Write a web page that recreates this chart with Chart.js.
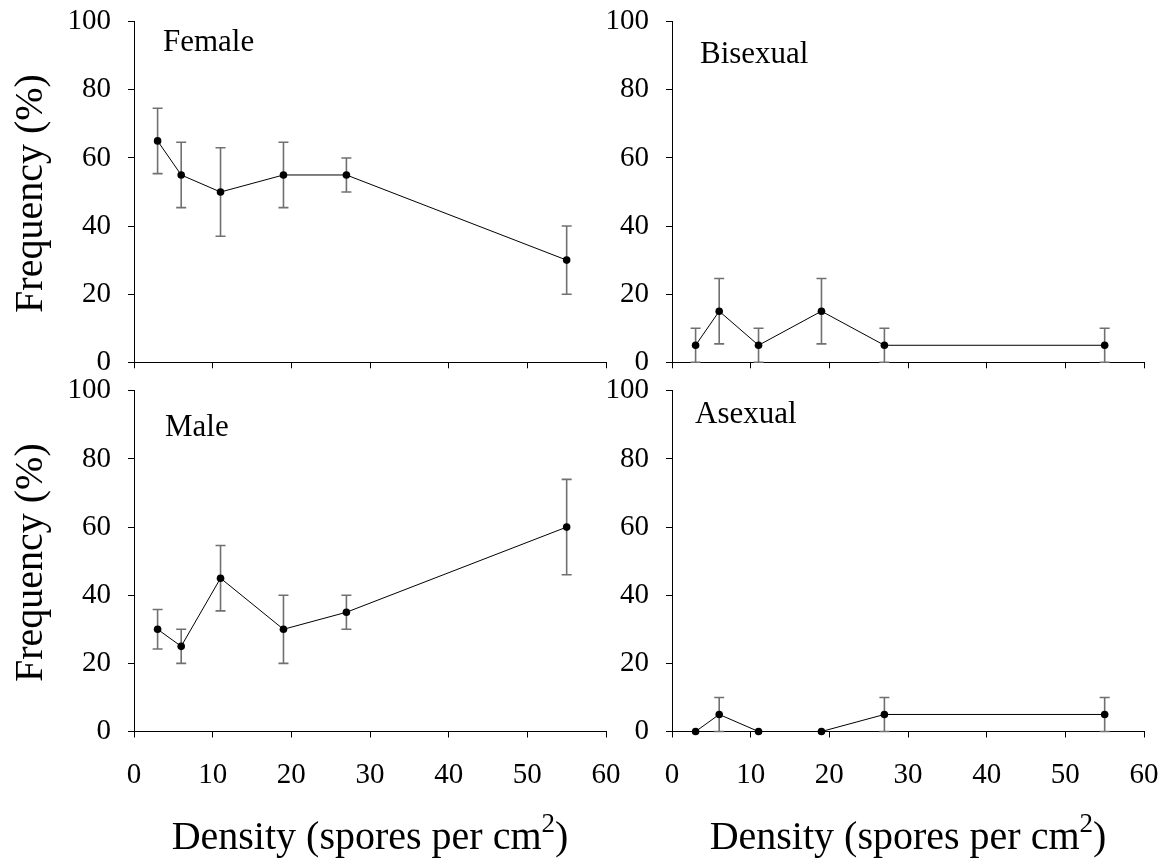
<!DOCTYPE html>
<html>
<head>
<meta charset="utf-8">
<title>Sex expression vs. spore density</title>
<script src="https://cdn.jsdelivr.net/npm/chart.js@4.4.1/dist/chart.umd.min.js"></script>
<style>
  html, body { margin: 0; padding: 0; background: #fff; }
  #wrap { position: relative; width: 1167px; height: 862px; overflow: hidden; background: #fff; }
  #wrap canvas { position: absolute; left: 0; top: 0; }
</style>
</head>
<body>
<div id="wrap">
  <canvas id="cFemale" width="1167" height="862"></canvas>
  <canvas id="cBisexual" width="1167" height="862"></canvas>
  <canvas id="cMale" width="1167" height="862"></canvas>
  <canvas id="cAsexual" width="1167" height="862"></canvas>
</div>
<script>
// Spore density (spores per cm^2) used in every panel
const density = [3, 6, 11, 19, 27, 55];

// Frequency (%) of each sex type, with error bar half-lengths
const female      = [65, 55, 50, 55, 55, 30];
const femaleErr   = [9.6, 9.6, 13, 9.6, 5, 10];
const bisexual    = [5, 15, 5, 15, 5, 5];
const bisexualErr = [5, 9.6, 5, 9.6, 5, 5];
const male        = [30, 25, 45, 30, 35, 60];
const maleErr     = [5.8, 5, 9.6, 10, 5, 14];
const asexual     = [0, 5, 0, 0, 5, 5];
const asexualErr  = [0, 5, 0, 0, 5, 5];

// Axis tick values
const xTicks = [0, 10, 20, 30, 40, 50, 60];
const yTicks = [0, 20, 40, 60, 80, 100];

// Text
const yTitle = 'Frequency (%)';
const xTitleMain = 'Density (spores per cm';
const xTitleSup = '2';
const xTitleEnd = ')';

const SERIF = '"Liberation Serif", "Times New Roman", Times, serif';
const PAGE_W = 1167, PAGE_H = 862;
const Y_AXIS_W = 120, X_AXIS_H = 60;

// Panel frames (plot-area edges in page pixels) and label placement
const panels = [
  { id: 'cFemale',   name: 'Female',   values: female,   errors: femaleErr,
    frame: { l: 134, t: 21.7, r: 606, b: 362.3 }, label: { x: 163, y: 51 },
    showXLabels: false, yTitle: true,  xTitle: false },
  { id: 'cBisexual', name: 'Bisexual', values: bisexual, errors: bisexualErr,
    frame: { l: 672, t: 21.7, r: 1144, b: 362.3 }, label: { x: 700, y: 63 },
    showXLabels: false, yTitle: false, xTitle: false },
  { id: 'cMale',     name: 'Male',     values: male,     errors: maleErr,
    frame: { l: 134, t: 390.8, r: 606, b: 731.5 }, label: { x: 165, y: 435.5 },
    showXLabels: true,  yTitle: true,  xTitle: true },
  { id: 'cAsexual',  name: 'Asexual',  values: asexual,  errors: asexualErr,
    frame: { l: 672, t: 390.8, r: 1144, b: 731.5 }, label: { x: 695, y: 422.5 },
    showXLabels: true,  yTitle: false, xTitle: true }
];

// Vertical error bars with caps, drawn under the line and markers
const errorBars = {
  id: 'errorBars',
  beforeDatasetsDraw(chart) {
    const { ctx, scales: { x, y } } = chart;
    chart.data.datasets.forEach(ds => {
      const errs = ds.errors || [];
      ctx.save();
      ctx.strokeStyle = '#707070';
      ctx.lineWidth = 1.6;
      ds.data.forEach((pt, j) => {
        const e = errs[j];
        if (!e) return;
        const px = x.getPixelForValue(pt.x);
        const hi = y.getPixelForValue(pt.y + e);
        const lo = y.getPixelForValue(Math.max(y.min, pt.y - e));
        const cap = 5;
        ctx.beginPath();
        ctx.moveTo(px, hi); ctx.lineTo(px, lo);
        ctx.moveTo(px - cap, hi); ctx.lineTo(px + cap, hi);
        ctx.moveTo(px - cap, lo); ctx.lineTo(px + cap, lo);
        ctx.stroke();
      });
      ctx.restore();
    });
  }
};

// Panel name and axis titles
const panelText = {
  id: 'panelText',
  afterDraw(chart, args, opts) {
    const { ctx, chartArea } = chart;
    const p = opts.panel;
    ctx.save();
    ctx.fillStyle = '#000';
    ctx.textBaseline = 'alphabetic';

    ctx.font = '31px ' + SERIF;
    ctx.textAlign = 'left';
    ctx.fillText(p.name, p.label.x, p.label.y);

    if (p.yTitle) {
      ctx.save();
      ctx.font = '40px ' + SERIF;
      ctx.translate(42, (chartArea.top + chartArea.bottom) / 2 + 1.5);
      ctx.rotate(-Math.PI / 2);
      ctx.textAlign = 'center';
      ctx.fillText(yTitle, 0, 0);
      ctx.restore();
    }

    if (p.xTitle) {
      ctx.font = '40px ' + SERIF;
      const wMain = ctx.measureText(xTitleMain).width;
      const wEnd = ctx.measureText(xTitleEnd).width;
      ctx.font = '27px ' + SERIF;
      const wSup = ctx.measureText(xTitleSup).width;
      const total = wMain + wSup + wEnd;
      const x0 = (chartArea.left + chartArea.right) / 2 - total / 2;
      const base = 849;
      ctx.textAlign = 'left';
      ctx.font = '40px ' + SERIF;
      ctx.fillText(xTitleMain, x0, base);
      ctx.font = '27px ' + SERIF;
      ctx.fillText(xTitleSup, x0 + wMain, base - 17);
      ctx.font = '40px ' + SERIF;
      ctx.fillText(xTitleEnd, x0 + wMain + wSup, base);
    }
    ctx.restore();
  }
};

panels.forEach(p => {
  const f = p.frame;
  new Chart(document.getElementById(p.id), {
    type: 'scatter',
    data: {
      datasets: [{
        label: p.name,
        data: density.map((d, i) => ({ x: d, y: p.values[i] })),
        errors: p.errors,
        showLine: true,
        tension: 0,
        borderColor: '#000',
        borderWidth: 1,
        pointRadius: 3.8,
        pointBackgroundColor: '#000',
        pointBorderColor: '#000',
        pointBorderWidth: 0,
        clip: false
      }]
    },
    options: {
      responsive: false,
      animation: false,
      devicePixelRatio: 1,
      layout: {
        padding: {
          left: f.l - Y_AXIS_W,
          top: f.t,
          right: PAGE_W - f.r,
          bottom: PAGE_H - f.b - X_AXIS_H
        }
      },
      plugins: {
        legend: { display: false },
        tooltip: { enabled: false },
        panelText: { panel: p }
      },
      scales: {
        x: {
          type: 'linear',
          min: xTicks[0],
          max: xTicks[xTicks.length - 1],
          afterBuildTicks: s => { s.ticks = xTicks.map(v => ({ value: v })); },
          ticks: {
            display: p.showXLabels,
            font: { family: SERIF, size: 29 },
            color: '#000',
            padding: 20,
            maxRotation: 0,
            autoSkip: false
          },
          grid: { drawOnChartArea: false, drawTicks: true, tickLength: 6, color: '#000', lineWidth: 1 },
          border: { display: true, color: '#000', width: 1 },
          afterFit: s => { s.height = X_AXIS_H; s.paddingLeft = 0; s.paddingRight = 0; }
        },
        y: {
          type: 'linear',
          min: yTicks[0],
          max: yTicks[yTicks.length - 1],
          afterBuildTicks: s => { s.ticks = yTicks.map(v => ({ value: v })); },
          ticks: {
            font: { family: SERIF, size: 29 },
            color: '#000',
            padding: 17,
            autoSkip: false
          },
          grid: { drawOnChartArea: false, drawTicks: true, tickLength: 6, color: '#000', lineWidth: 1 },
          border: { display: true, color: '#000', width: 1 },
          afterFit: s => { s.width = Y_AXIS_W; s.paddingTop = 0; s.paddingBottom = 0; }
        }
      }
    },
    plugins: [errorBars, panelText]
  });
});
</script>
</body>
</html>
